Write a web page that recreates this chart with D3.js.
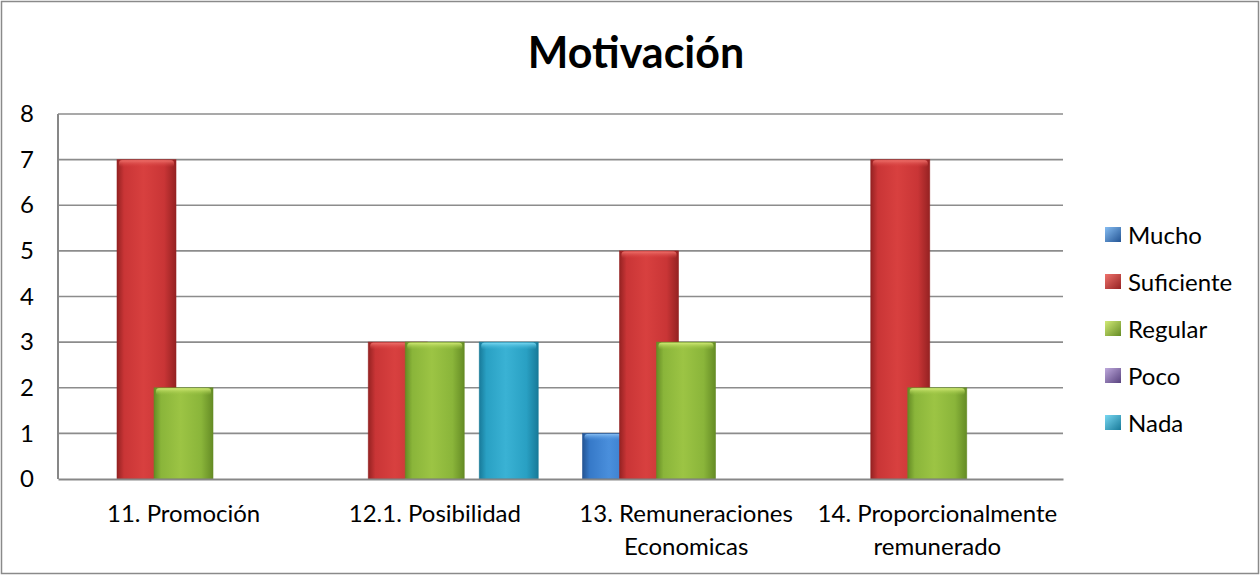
<!DOCTYPE html>
<html>
<head>
<meta charset="utf-8">
<script src="https://cdn.jsdelivr.net/npm/d3@7"></script>
<style>
  html, body { margin: 0; padding: 0; background: #fff; }
  svg { display: block; }
  text { font-family: Lato, "Open Sans", sans-serif; fill: #000; }
</style>
</head>
<body>
<div id="chart"></div>
<script>
// ---- data ----
const title = "Motivación";
const categories = ["11. Promoción", "12.1. Posibilidad", "13. Remuneraciones Economicas", "14. Proporcionalmente remunerado"];
const categoryLabelLines = [["11. Promoción"], ["12.1. Posibilidad"], ["13. Remuneraciones", "Economicas"], ["14. Proporcionalmente", "remunerado"]];
const seriesNames = ["Mucho", "Suficiente", "Regular", "Poco", "Nada"];
const mucho      = [0, 0, 1, 0];
const suficiente = [7, 3, 5, 7];
const regular    = [2, 3, 3, 2];
const poco       = [0, 0, 0, 0];
const nada       = [0, 3, 0, 0];
const yTicks = [0, 1, 2, 3, 4, 5, 6, 7, 8];

const seriesValues = [mucho, suficiente, regular, poco, nada];
const seriesColors = [
  {base: "#3679c8", dark: "#235494", light: "#4a8fdc", top: "#86bdf2"},
  {base: "#c93536", dark: "#952222", light: "#d8403f", top: "#ee726c"},
  {base: "#8ab53a", dark: "#658c25", light: "#9cc444", top: "#d2ea76"},
  {base: "#7a5ea3", dark: "#58427e", light: "#8e73b8", top: "#bea9dc"},
  {base: "#29a0c3", dark: "#187a99", light: "#3ab2d4", top: "#79d8f2"}
];

// ---- layout ----
const W = 1260, H = 575;
const plot = {x0: 58, x1: 1063, y0: 114, y1: 479};

const svg = d3.select("#chart").append("svg").attr("width", W).attr("height", H);
const defs = svg.append("defs");

seriesColors.forEach((c, i) => {
  const g = defs.append("linearGradient").attr("id", "g" + i).attr("x1", "0").attr("x2", "1").attr("y1", "0").attr("y2", "0");
  [[0, c.dark], [0.12, c.base], [0.45, c.light], [0.8, c.base], [1, c.dark]].forEach(([o, col]) =>
    g.append("stop").attr("offset", o).attr("stop-color", col));
  const t = defs.append("linearGradient").attr("id", "t" + i).attr("x1", "0").attr("x2", "0").attr("y1", "0").attr("y2", "1");
  t.append("stop").attr("offset", 0).attr("stop-color", c.top);
  t.append("stop").attr("offset", 1).attr("stop-color", c.light).attr("stop-opacity", 0);
  const lg = defs.append("linearGradient").attr("id", "l" + i).attr("x1", "0").attr("x2", "1").attr("y1", "0").attr("y2", "1");
  lg.append("stop").attr("offset", 0).attr("stop-color", c.top);
  lg.append("stop").attr("offset", 1).attr("stop-color", c.dark);
});

// outer border
svg.append("rect").attr("x", 1.5).attr("y", 1.5).attr("width", W - 3).attr("height", H - 3)
  .attr("fill", "none").attr("stroke", "#8a8a8a").attr("stroke-width", 1.5);

// title
svg.append("text").attr("x", 636).attr("y", 68).attr("text-anchor", "middle")
  .attr("font-size", 43).attr("font-weight", "bold").text(title);

// scales
const x = d3.scaleBand().domain(categories).range([plot.x0, plot.x1]).paddingInner(0).paddingOuter(0);
const y = d3.scaleLinear().domain([0, 8]).range([plot.y1, plot.y0]);

const bw = x.bandwidth();
const barW = bw * 59 / 251.25;
const step = bw * 37 / 251.25;
const pad = bw * 22 / 251.25;

// gridlines
svg.append("g").selectAll("line").data(yTicks.filter(d => d > 0)).join("line")
  .attr("x1", plot.x0).attr("x2", plot.x1)
  .attr("y1", d => y(d)).attr("y2", d => y(d))
  .attr("stroke", "#8c8c8c").attr("stroke-width", 1.6);

// y axis
const yAxis = svg.append("g").attr("transform", `translate(${plot.x0},0)`)
  .call(d3.axisLeft(y).tickValues(yTicks).tickSize(0).tickPadding(24).tickFormat(d3.format("d")));
yAxis.select(".domain").remove();
yAxis.selectAll("text").attr("font-size", 24).attr("fill", "#000").style("font-family", "Lato, sans-serif");

// bars
const bars = svg.append("g");
seriesValues.forEach((vals, si) => {
  const data = vals.map((v, ci) => ({v, c: categories[ci]})).filter(d => d.v > 0);
  const g = bars.append("g");
  g.selectAll("rect.b").data(data).join("rect").attr("class", "b")
    .attr("x", d => x(d.c) + pad + si * step)
    .attr("y", d => y(d.v))
    .attr("width", barW)
    .attr("height", d => y(0) - y(d.v))
    .attr("fill", `url(#g${si})`)
    .attr("stroke", seriesColors[si].dark).attr("stroke-width", 0.8).attr("stroke-opacity", 0.7);
  g.selectAll("rect.t").data(data).join("rect").attr("class", "t")
    .attr("x", d => x(d.c) + pad + si * step + 2)
    .attr("y", d => y(d.v) + 0.5)
    .attr("width", barW - 4)
    .attr("height", 7)
    .attr("rx", 3)
    .attr("fill", `url(#t${si})`);
});

// plot area axes
svg.append("line").attr("x1", plot.x0).attr("x2", plot.x0).attr("y1", plot.y0).attr("y2", plot.y1)
  .attr("stroke", "#878787").attr("stroke-width", 2);
const xAxis = svg.append("g").attr("transform", `translate(0,${plot.y1})`)
  .call(d3.axisBottom(x).tickSize(0).tickFormat(""));
xAxis.select(".domain").attr("stroke", "#878787").attr("stroke-width", 2.2);

// category labels
const catG = svg.append("g");
categories.forEach((c, i) => {
  const t = catG.append("text").attr("x", x(c) + bw / 2).attr("y", 522)
    .attr("text-anchor", "middle").attr("font-size", 24);
  categoryLabelLines[i].forEach((line, li) => {
    t.append("tspan").attr("x", x(c) + bw / 2).attr("y", 522 + li * 33).text(line);
  });
});

// legend
const leg = svg.append("g");
seriesNames.forEach((n, i) => {
  const cy = 235 + i * 47;
  leg.append("rect").attr("x", 1105).attr("y", cy - 8).attr("width", 16).attr("height", 15)
    .attr("fill", `url(#l${i})`);
  leg.append("text").attr("x", 1128).attr("y", cy + 8.5).attr("font-size", 24).text(n);
});
</script>
</body>
</html>
